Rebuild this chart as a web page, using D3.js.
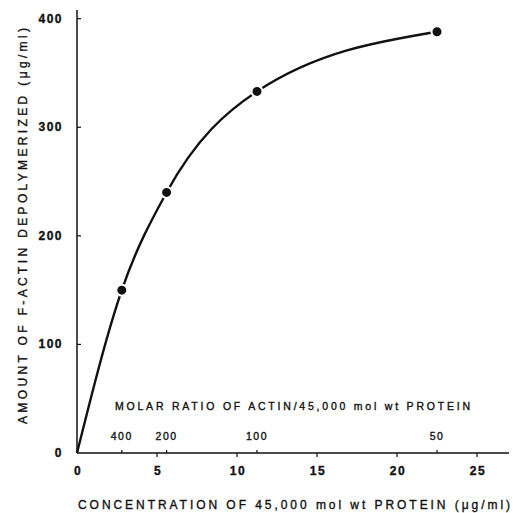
<!DOCTYPE html>
<html>
<head>
<meta charset="utf-8">
<script src="https://cdn.jsdelivr.net/npm/d3@7"></script>
<style>
  body { margin: 0; background: #fff; }
  text { font-family: "Liberation Sans", Arial, sans-serif; fill: #111; stroke: #111; stroke-width: 0.35px; }
</style>
</head>
<body>
<div id="plot"></div>
<script>
// protein concentration (ug/ml) and F-actin depolymerized (ug/ml)
var concentration = [0, 2.8, 5.6, 11.25, 22.5];
var depolymerized = [0, 150, 240, 333, 388];

// top scale: molar ratio actin / 45,000 mol wt protein
var ratioLabels = ["400", "200", "100", "50"];
var ratioPositions = [2.8, 5.6, 11.25, 22.5];

var xTicks = [0, 5, 10, 15, 20, 25];
var yTicks = [0, 100, 200, 300, 400];

var width = 513, height = 513;

const svg = d3.select("#plot")
  .append("svg")
  .attr("width", width)
  .attr("height", height);

const x = d3.scaleLinear().domain([0, 27]).range([77, 509]);
const y = d3.scaleLinear().domain([0, 408]).range([453, 10]);

// axes lines
svg.append("line")
  .attr("x1", x(0)).attr("x2", x(0))
  .attr("y1", y(0)).attr("y2", y(408))
  .attr("stroke", "#111").attr("stroke-width", 1.5);
svg.append("line")
  .attr("x1", x(0)).attr("x2", x(27))
  .attr("y1", y(0)).attr("y2", y(0))
  .attr("stroke", "#111").attr("stroke-width", 1.5);

// y ticks (pointing inside)
svg.append("g")
  .selectAll("line")
  .data(yTicks.slice(1))
  .join("line")
    .attr("x1", x(0)).attr("x2", x(0) + 4)
    .attr("y1", d => y(d)).attr("y2", d => y(d))
    .attr("stroke", "#111").attr("stroke-width", 1.2);

svg.append("g")
  .selectAll("text")
  .data(yTicks)
  .join("text")
    .attr("x", 63)
    .attr("y", d => y(d) + 4)
    .attr("text-anchor", "end")
    .style("font-size", "12px")
    .style("font-weight", "bold")
    .style("letter-spacing", "1.5px")
    .text(d => d);

// x ticks (pointing down)
svg.append("g")
  .selectAll("line")
  .data(xTicks.slice(1))
  .join("line")
    .attr("x1", d => x(d)).attr("x2", d => x(d))
    .attr("y1", y(0)).attr("y2", y(0) + 4)
    .attr("stroke", "#111").attr("stroke-width", 1.2);

svg.append("g")
  .selectAll("text")
  .data(xTicks)
  .join("text")
    .attr("x", d => x(d) + 1)
    .attr("y", 475)
    .attr("text-anchor", "middle")
    .style("font-size", "12px")
    .style("font-weight", "bold")
    .style("letter-spacing", "1.5px")
    .text(d => d);

// molar ratio ticks (pointing up)
svg.append("g")
  .selectAll("line")
  .data(ratioPositions)
  .join("line")
    .attr("x1", d => x(d)).attr("x2", d => x(d))
    .attr("y1", y(0)).attr("y2", y(0) - 3)
    .attr("stroke", "#111").attr("stroke-width", 1.2);

svg.append("g")
  .selectAll("text")
  .data(ratioLabels)
  .join("text")
    .attr("x", (d, i) => x(ratioPositions[i]))
    .attr("y", 440)
    .attr("text-anchor", "middle")
    .style("font-size", "10.5px")
    .style("letter-spacing", "1.5px")
    .text(d => d);

svg.append("text")
  .attr("x", 115)
  .attr("y", 410)
  .attr("textLength", 355)
  .attr("lengthAdjust", "spacing")
  .style("font-size", "10.5px")
  .text("MOLAR RATIO OF ACTIN/45,000 mol wt PROTEIN");

// axis titles
svg.append("text")
  .attr("x", 78)
  .attr("y", 509)
  .attr("textLength", 432)
  .attr("lengthAdjust", "spacing")
  .style("font-size", "12px")
  .text("CONCENTRATION OF 45,000 mol wt PROTEIN (\u03bcg/ml)");

svg.append("text")
  .attr("transform", "translate(27,424) rotate(-90)")
  .attr("textLength", 396)
  .attr("lengthAdjust", "spacing")
  .style("font-size", "12px")
  .text("AMOUNT OF F-ACTIN DEPOLYMERIZED (\u03bcg/ml)");

// curve through the measured points
var points = concentration.map((c, i) => [c, depolymerized[i]]);
var line = d3.line()
  .x(d => x(d[0]))
  .y(d => y(d[1]))
  .curve(d3.curveMonotoneX);

svg.append("path")
  .datum(points)
  .attr("d", line)
  .attr("fill", "none")
  .attr("stroke", "#111")
  .attr("stroke-width", 2.4);

svg.append("g")
  .selectAll("circle")
  .data(points.slice(1))
  .join("circle")
    .attr("cx", d => x(d[0]))
    .attr("cy", d => y(d[1]))
    .attr("r", 5.5)
    .attr("fill", "#111")
    .attr("stroke", "#fff")
    .attr("stroke-width", 2);
</script>
</body>
</html>
